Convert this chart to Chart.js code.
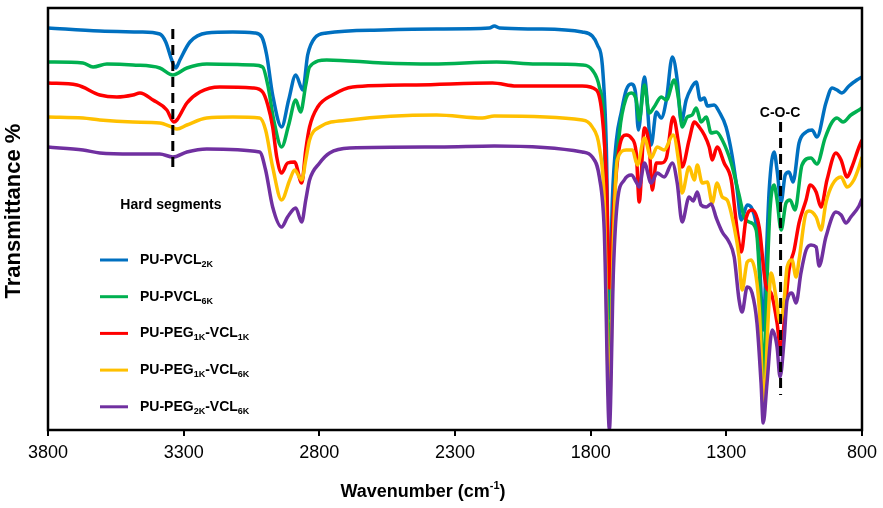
<!DOCTYPE html>
<html><head><meta charset="utf-8">
<script src="https://cdn.jsdelivr.net/npm/chart.js@4/dist/chart.umd.min.js"></script>
<style>html,body{margin:0;padding:0;background:#fff}#wrap{width:883px;height:508px}canvas{display:block}</style>
</head><body><div id="wrap"><canvas id="c" width="883" height="508"></canvas></div>
<script>
// ---------- data (wavenumber in cm-1, transmittance in arbitrary units) ----------
const xTickValues = [3800, 3300, 2800, 2300, 1800, 1300, 800];
const seriesNames = ["PU-PVCL_{2K}", "PU-PVCL_{6K}", "PU-PEG_{1K}-VCL_{1K}", "PU-PEG_{1K}-VCL_{6K}", "PU-PEG_{2K}-VCL_{6K}"];
const seriesColors = ["#0070C0", "#00B050", "#FF0000", "#FFC000", "#7030A0"];

const blueWavenumber = [3800,3609,3461,3388,3366,3344,3329,3314,3277,3215,3119,3038,3012,2994,2972,2939,2913,2887,2861,2843,2817,2773,2567,2368,2173,2155,2136,2000,1831,1794,1775,1757,1742,1731,1720,1705,1687,1669,1650,1635,1624,1602,1577,1558,1540,1521,1499,1481,1466,1448,1429,1411,1396,1381,1370,1345,1326,1301,1279,1260,1245,1223,1205,1187,1176,1164,1153,1142,1124,1113,1098,1083,1069,1054,1032,1006,984,966,933,910,892,874,848,819,800];
const blueTransmittance = [100.5,99.75,99.5,99,97,92.5,90.5,92.5,97,99.25,99.5,99.25,98.25,93.75,83.75,75.75,82.5,88.75,85,93.75,98,99.25,100,100.25,100.5,101,100.5,100.25,99.5,98.5,96.25,91.25,70,28,57.5,72.5,79.5,85,86.5,84.5,75,88.25,71.25,79.5,78,82.5,93.25,87.5,77,82.5,85.5,87,82.5,83,81,81.25,79.5,75.75,68.75,60,52.5,56.25,55.25,50,40,25,42.5,60,69.5,65,57,63.75,64.5,62,71.75,74.5,75,73.25,81.75,85.5,85,84.25,86,87.5,88.25];

const greenWavenumber = [3800,3671,3634,3583,3487,3388,3340,3288,3215,3045,3009,2990,2968,2939,2913,2887,2869,2850,2836,2773,2567,2383,2147,2000,1831,1794,1768,1750,1731,1716,1694,1669,1650,1632,1621,1602,1584,1566,1540,1521,1492,1474,1463,1444,1426,1411,1393,1374,1356,1337,1315,1282,1253,1234,1216,1190,1179,1164,1150,1139,1124,1113,1098,1080,1065,1047,1021,988,966,936,910,892,870,841,811,800];
const greenTransmittance = [92,91.75,90.75,91.5,91.25,90.5,88.75,90.5,91.5,91.25,90.75,86.25,77.5,70.75,76.25,82.5,79.5,86.25,90.75,92.5,91.75,91.5,92,91.5,91.25,90,85.75,75,13,52.5,74.25,83,84.25,82.5,77.5,86.25,79.25,80.75,83.25,82.5,87.5,81.75,75.75,78.25,78.75,80.5,77,78.25,74.25,74.5,72.5,66.75,58.75,53.25,52,50,40,13,37.5,55,61.25,57.5,50,56.75,57.5,55,66.25,68,66.5,73,77,78,77,78.75,80,80.5];

const redWavenumber = [3800,3693,3609,3546,3487,3461,3413,3362,3336,3325,3288,3240,3167,3045,3009,2990,2972,2957,2939,2917,2891,2865,2850,2836,2806,2751,2677,2442,2162,2074,1831,1779,1757,1742,1731,1716,1694,1669,1650,1632,1621,1602,1584,1573,1558,1540,1521,1496,1474,1463,1437,1418,1400,1381,1363,1352,1334,1308,1282,1260,1245,1227,1205,1179,1153,1135,1113,1098,1087,1069,1050,1032,1006,991,969,951,929,896,877,855,837,811,800];
const redTransmittance = [86.75,86.25,83.75,83.25,83.75,84.25,82.5,80,77,77.5,81.75,84.5,85.75,85.5,84.5,81.25,75.75,68.25,64.25,66.75,67,61.75,70,75.75,80.75,83.75,85.75,86.25,86.75,86,86,85,78.25,62.5,35.5,55,70.75,73.75,73,69.25,57,75.5,70.75,60,66.75,66.75,68,78.25,70.75,65.75,72.5,77,75.75,73.75,70.75,67.5,70.75,66.75,62.5,50,44.5,53,55,50.75,35.75,34.25,26.75,19.25,26.75,40,45,51.75,57.5,61.25,59.5,55.75,62.5,69.25,67.5,63.25,65.75,70.75,72.5];

const yellowWavenumber = [3800,3671,3609,3487,3388,3344,3325,3288,3215,3119,3020,2998,2972,2939,2909,2891,2865,2850,2836,2799,2688,2368,2199,2155,1831,1794,1768,1750,1731,1716,1702,1669,1646,1628,1602,1577,1555,1529,1496,1474,1463,1437,1418,1407,1389,1370,1352,1334,1315,1297,1271,1253,1242,1223,1209,1190,1179,1161,1146,1135,1117,1102,1087,1076,1058,1043,1032,1006,995,969,951,933,910,877,855,830,811,800];
const yellowTransmittance = [78.25,78,77.5,77,76.75,75.75,75.25,76.25,78,78.25,78,75,65.75,57.5,62.5,65,62.5,67.5,72.5,75.75,77.5,78.75,78,78.5,77.5,75.75,70.75,57.5,6.25,47.5,67.5,70,70,66.25,73,68,70.75,70,73.75,66.25,59.25,65.75,62.5,66.25,61.75,62,56.75,61.75,58.25,57.5,50.75,43.25,35,42,42.5,38.25,30.75,6.25,27.5,39.25,33.25,27,32.5,40.75,42.5,38.25,42.5,54.25,54.75,53.25,50,56.75,61.25,63.25,60.75,62.5,65.75,68.25];

const purpleWavenumber = [3800,3671,3609,3487,3388,3340,3288,3215,3020,2998,2972,2939,2917,2887,2865,2850,2836,2799,2762,2688,2357,2155,1831,1794,1768,1750,1731,1716,1702,1676,1650,1632,1621,1602,1577,1555,1529,1499,1481,1463,1437,1422,1407,1393,1374,1356,1337,1315,1290,1271,1253,1242,1223,1205,1187,1172,1164,1150,1131,1113,1102,1087,1076,1058,1043,1025,1006,988,969,958,933,896,877,859,841,811,800];
const purpleTransmittance = [70.75,70,69.25,69,69,68.25,69.5,70.25,69.5,65,55.75,50.75,53.25,55.5,52,57.5,62.5,66.75,69.25,70.5,70.75,71,69.5,68.25,63.25,50,0.25,40,56.75,62.5,63.75,62,60.75,66.75,61.75,64.25,63.25,66.75,61.75,52,58.25,57.25,59.5,56.25,55.75,56.5,53,49.5,47,43.25,32.5,29.5,35.75,34.25,26.75,11.75,1.75,11.75,25,20.75,13.25,22.5,32.5,34.25,31.75,39.25,45,46.25,45.75,41,48.25,54.5,53.75,51.75,53.25,56,57.75];

// band markers (dashed lines) and their labels
const markerWavenumbers = [3340, 1100];
const markerTop = [100.25, 77];
const markerBottom = [64.5, 8.75];
const markerLabels = ["Hard segments", "C-O-C"];
const markerLabelWavenumbers = [3347, 1102];
const markerLabelLevels = [56.5, 79.5];

const xTitle = ["Wavenumber (cm", "-1", ")"];
const yTitle = "Transmittance %";

// ---------- chart ----------
const FONT = '"Liberation Sans", Arial, sans-serif';
const allW = [blueWavenumber, greenWavenumber, redWavenumber, yellowWavenumber, purpleWavenumber];
const allT = [blueTransmittance, greenTransmittance, redTransmittance, yellowTransmittance, purpleTransmittance];

const datasets = seriesNames.map((name, i) => ({
  label: name.replace(/[_{}]/g, ''),
  data: allW[i].map((w, k) => ({x: w, y: allT[i][k]})),
  borderColor: seriesColors[i],
  backgroundColor: seriesColors[i],
  borderWidth: 3.5,
  pointRadius: 0,
  cubicInterpolationMode: 'monotone',
  fill: false,
  order: seriesNames.length - 1 - i
}));

function drawRich(ctx, text, x, y, size) {
  const parts = text.split(/(_\{[^}]*\})/).filter(Boolean);
  let cx = x;
  for (const p of parts) {
    if (p.startsWith('_{')) {
      const s = p.slice(2, -1);
      ctx.font = `bold ${Math.round(size * 0.66)}px ${FONT}`;
      ctx.fillText(s, cx, y + size * 0.22);
      cx += ctx.measureText(s).width;
    } else {
      ctx.font = `bold ${size}px ${FONT}`;
      ctx.fillText(p, cx, y);
      cx += ctx.measureText(p).width;
    }
  }
  return cx - x;
}

const decor = {
  id: 'decor',
  afterDatasetsDraw(chart) {
    const {ctx, chartArea: a, scales: {x, y}} = chart;
    ctx.save();
    ctx.fillStyle = '#000';
    ctx.strokeStyle = '#000';
    // dashed band markers
    ctx.lineWidth = 3;
    ctx.setLineDash([10, 6]);
    markerWavenumbers.forEach((w, i) => {
      const px = x.getPixelForValue(w);
      ctx.beginPath();
      ctx.moveTo(px, y.getPixelForValue(markerTop[i]));
      ctx.lineTo(px, y.getPixelForValue(markerBottom[i]));
      ctx.stroke();
    });
    ctx.setLineDash([]);
    // marker labels
    ctx.textBaseline = 'alphabetic';
    ctx.textAlign = 'center';
    ctx.font = `bold 14px ${FONT}`;
    markerLabels.forEach((t, i) => {
      ctx.fillText(t, x.getPixelForValue(markerLabelWavenumbers[i]), y.getPixelForValue(markerLabelLevels[i]) + 5);
    });
    // frame
    ctx.lineWidth = 2.5;
    ctx.strokeRect(a.left, a.top, a.right - a.left, a.bottom - a.top);
    // legend
    ctx.textAlign = 'left';
    seriesNames.forEach((name, i) => {
      const base = 264 + i * 36.7;
      ctx.strokeStyle = seriesColors[i];
      ctx.lineWidth = 3;
      ctx.beginPath();
      ctx.moveTo(100, base - 4);
      ctx.lineTo(128, base - 4);
      ctx.stroke();
      ctx.fillStyle = '#000';
      drawRich(ctx, name, 140, base, 14);
    });
    ctx.restore();
  },
  afterDraw(chart) {
    const {ctx} = chart;
    ctx.save();
    ctx.fillStyle = '#000';
    ctx.textBaseline = 'alphabetic';
    // x title with superscript
    const big = `bold 18px ${FONT}`, small = `bold 11px ${FONT}`;
    ctx.font = big; const w1 = ctx.measureText(xTitle[0]).width; const w3 = ctx.measureText(xTitle[2]).width;
    ctx.font = small; const w2 = ctx.measureText(xTitle[1]).width;
    let sx = 423 - (w1 + w2 + w3) / 2;
    ctx.textAlign = 'left';
    ctx.font = big; ctx.fillText(xTitle[0], sx, 497); sx += w1;
    ctx.font = small; ctx.fillText(xTitle[1], sx, 489); sx += w2;
    ctx.font = big; ctx.fillText(xTitle[2], sx, 497);
    // y title
    ctx.translate(14, 211);
    ctx.rotate(-Math.PI / 2);
    ctx.textAlign = 'center';
    ctx.textBaseline = 'middle';
    ctx.font = `bold 22px ${FONT}`;
    ctx.fillText(yTitle, 0, 0);
    ctx.restore();
  }
};

new Chart(document.getElementById('c'), {
  type: 'line',
  data: {datasets},
  options: {
    responsive: false,
    animation: false,
    devicePixelRatio: 1,
    layout: {padding: {left: 48, right: 20, top: 8, bottom: 0}},
    plugins: {legend: {display: false}, tooltip: {enabled: false}},
    scales: {
      x: {
        type: 'linear',
        reverse: true,
        min: 800,
        max: 3800,
        afterBuildTicks(scale) { scale.ticks = xTickValues.map(v => ({value: v})); },
        afterFit(scale) { scale.height = 78; },
        border: {display: false},
        grid: {display: true, drawOnChartArea: false, drawTicks: true, tickLength: 6, color: '#000', lineWidth: 2},
        ticks: {color: '#000', font: {family: FONT, size: 18}, padding: 6, maxRotation: 0, autoSkip: false,
                callback: v => String(v)}
      },
      y: {display: false, min: 0, max: 105.5}
    }
  },
  plugins: [decor]
});
</script>
</body></html>
